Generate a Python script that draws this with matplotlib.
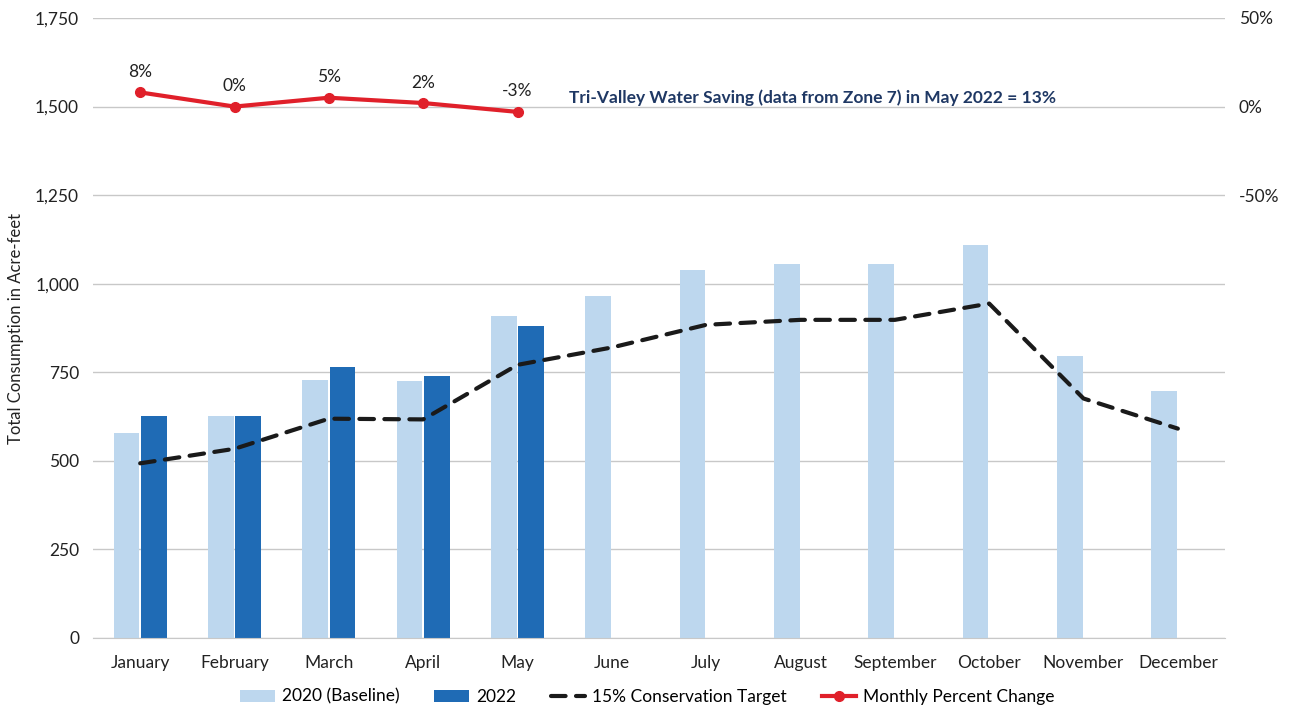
import numpy as np
import matplotlib
matplotlib.use('Agg')
from matplotlib import pyplot as plt
from matplotlib.ticker import FuncFormatter, FixedLocator

plt.rcParams['font.family'] = ['Lato', 'DejaVu Sans']

months = ['January', 'February', 'March', 'April', 'May', 'June', 'July',
          'August', 'September', 'October', 'November', 'December']
baseline_2020 = [578, 626, 727, 725, 908, 964, 1040, 1057, 1057, 1108, 795, 696]
use_2022 = [626, 626, 764, 739, 880]
target = [493, 534, 619, 617, 771, 820, 884, 898, 898, 944, 676, 591]
pct_change = [0.08, 0.00, 0.05, 0.02, -0.03]
pct_labels = ['8%', '0%', '5%', '2%', '-3%']

light = '#BDD7EE'
dark = '#1F6BB5'
red = '#E0202A'
grid_c = '#C8C8C8'

fig = plt.figure(figsize=(12.95, 7.12), dpi=100)
ax = fig.add_axes([93/1295, 1-638/712, (1225-93)/1295, (638-18)/712])

x = np.arange(len(months))
w = 0.27
b1 = ax.bar(x - w/2 - 0.01, baseline_2020, w, color=light, label='2020 (Baseline)', zorder=2)
x22 = np.arange(len(use_2022))
b2 = ax.bar(x22 + w/2 + 0.01, use_2022, w, color=dark, label='2022', zorder=2)
l1, = ax.plot(x, target, color='#1A1A1A', lw=3, linestyle=(0, (3.5, 2.5)),
              dash_capstyle='round', label='15% Conservation Target', zorder=3)

ax.set_xlim(-0.5, 11.5)
ax.set_ylim(0, 1750)
ax.set_yticks(np.arange(0, 1751, 250))
ax.yaxis.set_major_formatter(FuncFormatter(lambda v, p: f'{int(v):,}'))
ax.set_xticks(x)
ax.set_xticklabels(months)
ax.tick_params(axis='both', length=0, labelsize=12.5, colors='#222222')
ax.tick_params(axis='x', pad=12)
ax.tick_params(axis='y', pad=10)
ax.grid(axis='y', color=grid_c, lw=1, zorder=0)
for s in ['top', 'right', 'left']:
    ax.spines[s].set_visible(False)
ax.spines['bottom'].set_color(grid_c)
ax.set_ylabel('Total Consumption in Acre-feet', fontsize=12, color='#222222', labelpad=8)

ax2 = ax.twinx()
ax2.set_ylim(-3.0, 0.5)
ax2.yaxis.set_major_locator(FixedLocator([-0.5, 0.0, 0.5]))
ax2.yaxis.set_major_formatter(FuncFormatter(lambda v, p: f'{int(round(v*100))}%'))
ax2.tick_params(axis='y', length=0, labelsize=12.5, colors='#222222', pad=10)
for s in ['top', 'right', 'left', 'bottom']:
    ax2.spines[s].set_visible(False)
l2, = ax2.plot(x22, pct_change, color=red, lw=3, marker='o', ms=7,
               label='Monthly Percent Change', zorder=4)
for xi, yi, t in zip(x22, pct_change, pct_labels):
    ax2.annotate(t, (xi, yi), xytext=(0, 9), textcoords='offset points',
                 ha='center', va='bottom', fontsize=12.5, color='#222222')

ax2.text(4.55, 0.05, 'Tri-Valley Water Saving (data from Zone 7) in May 2022 = 13%',
         fontsize=12.5, fontweight='bold', color='#1F3864', va='center', ha='left')

fig.legend(handles=[b1, b2, l1, l2], loc='lower center', bbox_to_anchor=(0.5, -0.012),
           ncol=4, frameon=False, fontsize=12.5, handlelength=2.0, handletextpad=0.4,
           columnspacing=2.0)

plt.savefig('out.png', dpi=100)
plt.close()
